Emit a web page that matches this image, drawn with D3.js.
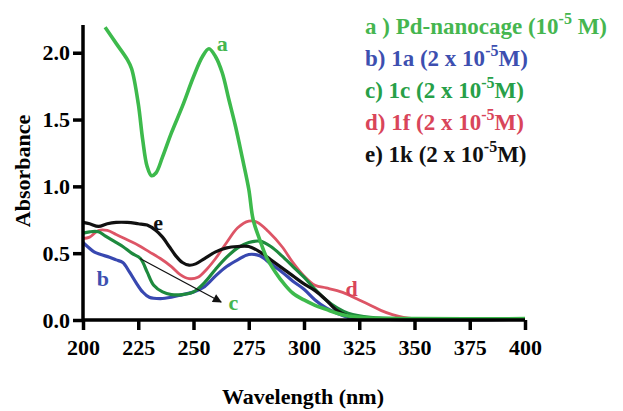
<!DOCTYPE html>
<html><head><meta charset="utf-8">
<script src="https://cdn.jsdelivr.net/npm/d3@7"></script>
<style>
html,body{margin:0;padding:0;background:#fff;}
</style></head>
<body><svg id="c" width="623" height="411" font-family="Liberation Serif" font-weight="bold"></svg>
<script>
const xTicks=[200,225,250,275,300,325,350,375,400];
const yTicks=[0.0,0.5,1.0,1.5,2.0];
const wlA=[210,215,220,222,225,227,229,231,233,236,240,245,250,254,257,260,263,266,269,272,275,277,280,283,287,291,295,300,305,310,315,320,330,350,400];
const absA=[2.19,2.07,1.95,1.88,1.62,1.35,1.15,1.08,1.10,1.22,1.40,1.60,1.82,1.97,2.03,1.97,1.85,1.65,1.45,1.22,0.98,0.75,0.60,0.47,0.36,0.27,0.20,0.15,0.11,0.08,0.05,0.03,0.015,0.01,0.01];
const wlB=[200,202,205,208,212,215,218,221,224,227,230,235,240,245,250,255,260,265,270,275,280,285,290,295,300,305,310,315,320,325,400];
const absB=[0.58,0.55,0.51,0.49,0.47,0.45,0.43,0.36,0.28,0.21,0.17,0.16,0.17,0.19,0.21,0.25,0.33,0.40,0.45,0.49,0.48,0.42,0.36,0.29,0.23,0.15,0.09,0.05,0.02,0.01,0.005];
const wlC=[200,203,207,210,214,218,222,226,229,232,236,240,245,250,255,260,265,270,275,280,285,290,295,300,305,310,315,320,330,400];
const absC=[0.65,0.66,0.66,0.63,0.59,0.55,0.50,0.46,0.36,0.26,0.21,0.19,0.19,0.21,0.28,0.38,0.47,0.54,0.58,0.59,0.55,0.48,0.40,0.32,0.23,0.15,0.09,0.05,0.02,0.01];
const wlD=[200,203,207,211,215,220,225,230,235,240,244,248,252,256,260,265,270,275,279,284,290,295,300,305,310,315,320,325,330,335,340,345,350,400];
const absD=[0.61,0.62,0.67,0.67,0.64,0.60,0.56,0.51,0.46,0.40,0.34,0.31,0.32,0.38,0.46,0.58,0.69,0.74,0.73,0.66,0.55,0.43,0.33,0.26,0.24,0.22,0.19,0.15,0.11,0.07,0.04,0.02,0.01,0.005];
const wlE=[200,203,207,211,215,220,225,229,233,236,239,242,245,248,251,255,260,265,270,275,280,285,290,295,300,305,310,315,320,330,400];
const absE=[0.73,0.72,0.70,0.72,0.73,0.73,0.72,0.71,0.67,0.62,0.55,0.48,0.43,0.41,0.42,0.46,0.51,0.54,0.55,0.55,0.51,0.45,0.39,0.33,0.27,0.22,0.15,0.07,0.03,0.01,0.005];
const seriesNames=["d","b","c","e","a"];
const legendLabels=[
 {pre:"a ) Pd-nanocage (10",sup:"-5",post:" M)",color:"#45b64f"},
 {pre:"b) 1a (2 x 10",sup:"-5",post:"M)",color:"#3d4fb0"},
 {pre:"c) 1c (2 x 10",sup:"-5",post:"M)",color:"#27a048"},
 {pre:"d) 1f (2 x 10",sup:"-5",post:"M)",color:"#d9455a"},
 {pre:"e) 1k (2 x 10",sup:"-5",post:"M)",color:"#111111"}];
const curveLabels=[{t:"a",w:263,v:2.07,color:"#45b64f"},{t:"b",w:209,v:0.31,color:"#3d4fb0"},{t:"c",w:268,v:0.13,color:"#45b64f"},{t:"d",w:321.5,v:0.24,color:"#d9455a"},{t:"e",w:234,v:0.73,color:"#111"}];
const arrowFrom=[225.8,0.46], arrowTo=[262.5,0.135];

const FONT="Liberation Serif";
const svg=d3.select("#c");
const x=d3.scaleLinear().domain([200,400]).range([83,525]);
const y=d3.scaleLinear().domain([0,2.2]).range([320,26]);

const data={a:[wlA,absA,"#3dba4c",3.6],b:[wlB,absB,"#3848b0",3.2],c:[wlC,absC,"#1e8a3e",3.2],d:[wlD,absD,"#dd5566",2.8],e:[wlE,absE,"#111",3.2]};
const line=d3.line().x(d=>x(d[0])).y(d=>y(d[1])).curve(d3.curveCatmullRom.alpha(0.5));
seriesNames.forEach(k=>{
  const [w,v,col,sw]=data[k];
  svg.append("path").datum(w.map((q,i)=>[q,v[i]])).attr("d",line).attr("fill","none").attr("stroke",col).attr("stroke-width",sw).attr("stroke-linejoin","round");
});

svg.append("defs").append("marker").attr("id","ah").attr("viewBox","0 0 10 10").attr("refX",9).attr("refY",5)
 .attr("markerWidth",12).attr("markerHeight",9).attr("markerUnits","userSpaceOnUse").attr("orient","auto")
 .append("path").attr("d","M0,0L10,5L0,10Z").attr("fill","#111");
svg.append("line").attr("x1",x(arrowFrom[0])).attr("y1",y(arrowFrom[1])).attr("x2",x(arrowTo[0])).attr("y2",y(arrowTo[1]))
 .attr("stroke","#111").attr("stroke-width",1.3).attr("marker-end","url(#ah)");

const xa=svg.append("g").attr("transform","translate(0,320)").call(d3.axisBottom(x).tickValues(xTicks).tickSize(10).tickPadding(9).tickFormat(d3.format("d")));
const ya=svg.append("g").attr("transform","translate(83,0)").call(d3.axisLeft(y).tickValues(yTicks).tickSize(10).tickPadding(3).tickFormat(d3.format(".1f")));
[xa,ya].forEach(g=>{
  g.attr("font-family",FONT).attr("font-size",22).attr("font-weight","bold");
  g.select(".domain").attr("stroke","#000").attr("stroke-width",3.5);
  g.selectAll(".tick line").attr("stroke","#000").attr("stroke-width",3.5);
  g.selectAll(".tick text").attr("fill","#000");
});
xa.select(".domain").attr("d","M83,0H525");
ya.select(".domain").attr("d","M0,25V320");

function txt(){ return svg.append("text").attr("font-family",FONT).attr("font-weight","bold"); }
txt().attr("x",303).attr("y",404).attr("text-anchor","middle").attr("font-size",22).text("Wavelength (nm)");
txt().attr("transform","translate(30,171) rotate(-90)").attr("text-anchor","middle").attr("font-size",22).text("Absorbance");

curveLabels.forEach(l=>{
  txt().attr("x",x(l.w)).attr("y",y(l.v)).attr("dy","0.35em").attr("text-anchor","middle").attr("fill",l.color).attr("font-size",22).text(l.t);
});

legendLabels.forEach((l,i)=>{
  const t=txt().attr("x",365).attr("y",34+i*32).attr("fill",l.color).attr("font-size",23);
  t.append("tspan").text(l.pre);
  t.append("tspan").attr("dy",-10).attr("font-size",16).text(l.sup);
  t.append("tspan").attr("dy",10).text(l.post);
});
</script></body></html>
